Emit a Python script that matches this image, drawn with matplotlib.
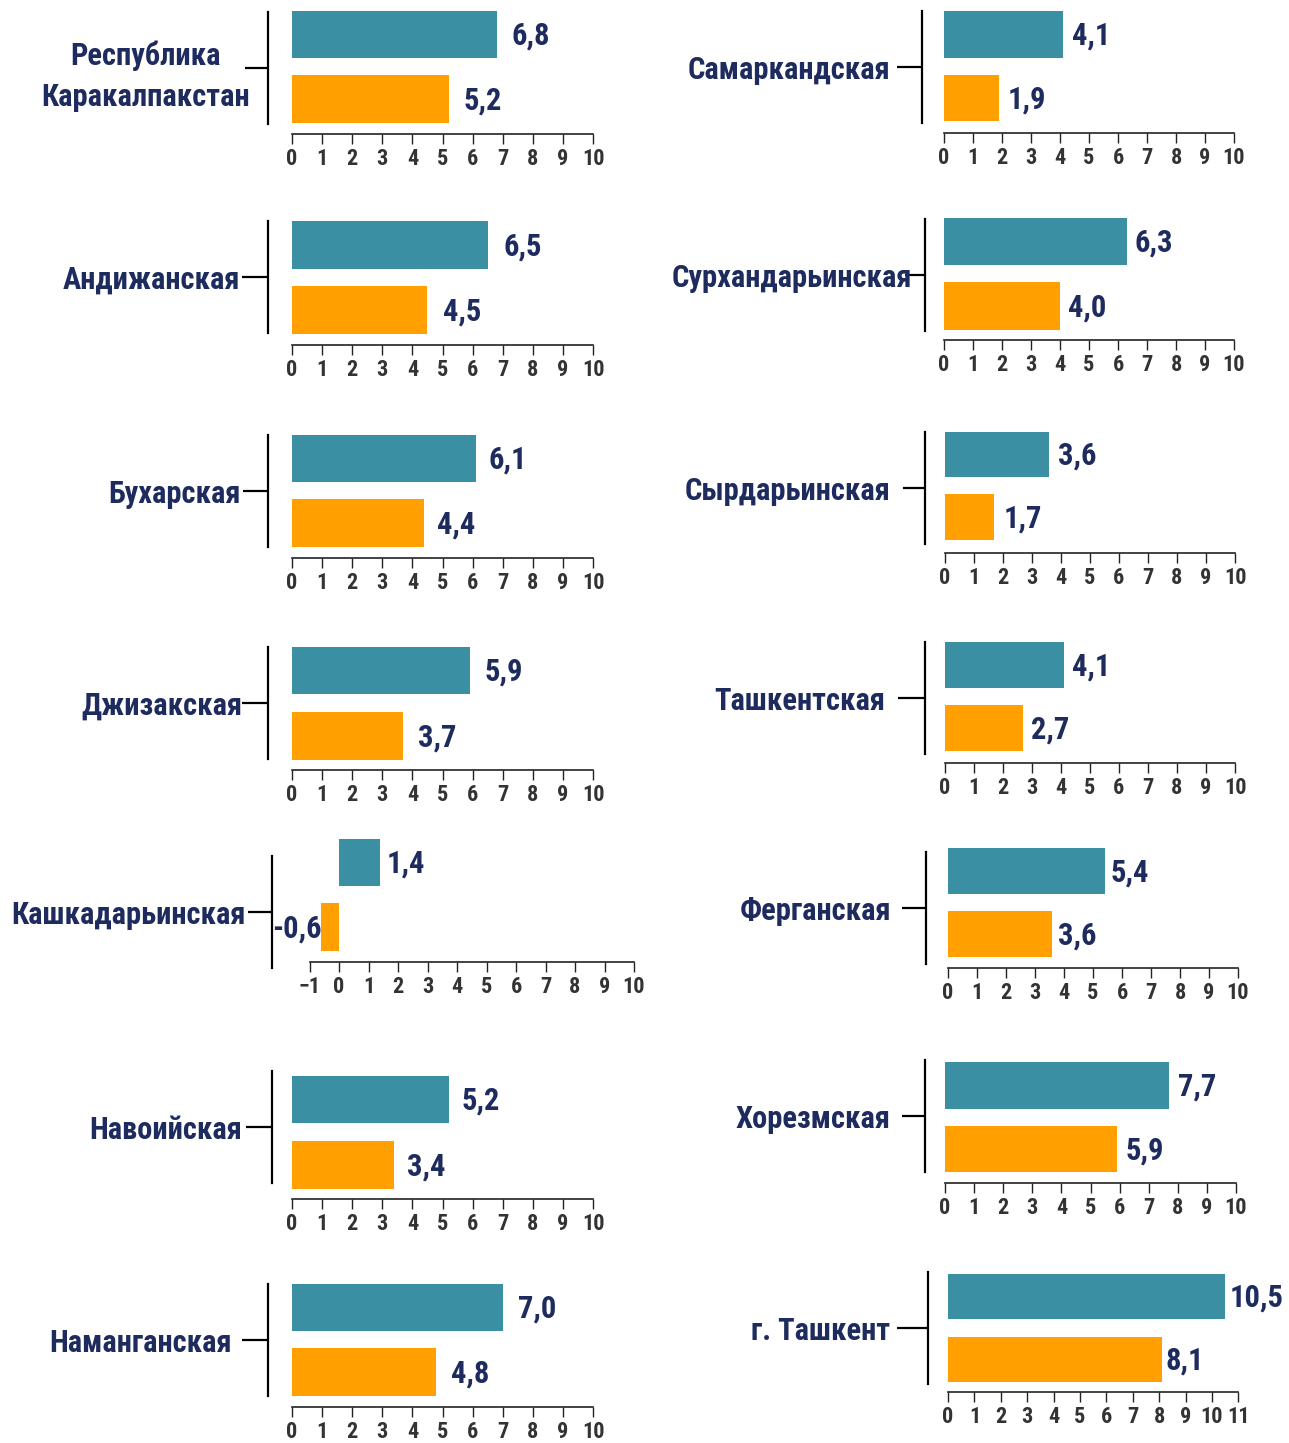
import matplotlib
matplotlib.use("Agg")
import matplotlib.pyplot as plt
from matplotlib import font_manager

# --- data ---
regions = ["Республика\nКаракалпакстан", "Андижанская", "Бухарская", "Джизакская",
           "Кашкадарьинская", "Навоийская", "Наманганская",
           "Самаркандская", "Сурхандарьинская", "Сырдарьинская", "Ташкентская",
           "Ферганская", "Хорезмская", "г. Ташкент"]
teal_vals = [6.8, 6.5, 6.1, 5.9, 1.4, 5.2, 7.0, 4.1, 6.3, 3.6, 4.1, 5.4, 7.7, 10.5]
orange_vals = [5.2, 4.5, 4.4, 3.7, -0.6, 3.4, 4.8, 1.9, 4.0, 1.7, 2.7, 3.6, 5.9, 8.1]
x_min = [0, 0, 0, 0, -1, 0, 0, 0, 0, 0, 0, 0, 0, 0]
x_max = [10, 10, 10, 10, 10, 10, 10, 10, 10, 10, 10, 10, 10, 11]

# --- layout (pixels in the 1289x1443 image) ---
W, H = 1289, 1443
teal_c = [34.5, 245, 458.5, 670.5, 862.5, 1099.5, 1307.5,
          34.5, 241.5, 454.5, 665, 871, 1085.5, 1296.5]
orange_c = [99, 310, 523, 736, 927, 1165, 1372,
            98, 306, 517, 728, 934, 1149, 1359.5]
axis_y = [134, 345, 558, 770, 962, 1199, 1407,
          133, 340, 553, 763, 968, 1183, 1392]
zero_x = [292, 292, 292, 292, 339, 292, 292,
          944, 944, 945, 945, 948, 945, 948]
unit_px = [30.1, 30.1, 30.1, 30.1, 29.5, 30.1, 30.1,
           29, 29, 29, 29, 29, 29.1, 26.4]
label_y = [68, 277, 491, 703, 912, 1127, 1340,
           67, 275, 488, 698, 908, 1116, 1328]
vline_x = [268, 268, 268, 268, 272, 272, 268,
           922, 925, 925, 925, 926, 925, 928]
tick_len = [23, 26, 25, 26, 24, 26, 26,
            25, 20, 22, 27, 24, 23, 31]
label_pad = [-5, 2, 2, 0, 2, 4, 10,
             7, -7, 13, 13, 11, 11, 7]
value_gap = [15, 16, 13, 15, 6, 13, 15,
             9, 8, 9, 8, 6, 9, 4]

TEAL = "#3A8FA3"
ORANGE = "#FFA000"
NAVY = "#1E2B5E"
GREY = "#333333"

names = {f.name for f in font_manager.fontManager.ttflist}
fam = [f for f in ["Liberation Sans Narrow", "Roboto Condensed", "Liberation Sans", "DejaVu Sans"] if f in names]
plt.rcParams["font.family"] = fam
plt.rcParams["font.weight"] = "bold"

PT = 0.72  # px -> pt at dpi 100

fig = plt.figure(figsize=(W / 100, H / 100), dpi=100)

for i in range(len(regions)):
    sp = orange_c[i] - teal_c[i]
    top_px = teal_c[i] - 0.45 * sp
    left_px = zero_x[i] + x_min[i] * unit_px[i]
    right_px = zero_x[i] + x_max[i] * unit_px[i]
    ax = fig.add_axes([left_px / W, 1 - axis_y[i] / H,
                       (right_px - left_px) / W, (axis_y[i] - top_px) / H])
    ax.set_xlim(x_min[i], x_max[i])
    ax.set_ylim(-(axis_y[i] - orange_c[i]) / sp, 1 + (teal_c[i] - top_px) / sp)

    ax.barh([1, 0], [teal_vals[i], orange_vals[i]], height=0.73,
            color=[TEAL, ORANGE])

    for y, v in [(1, teal_vals[i]), (0, orange_vals[i])]:
        txt = f"{v:.1f}".replace(".", ",")
        if v >= 0:
            ax.annotate(txt, (v, y), xytext=(value_gap[i] * PT, -1), textcoords="offset points",
                        ha="left", va="center", fontsize=22, color=NAVY,
                        fontweight="bold")
        else:
            ax.annotate(txt, (v, y), xytext=(0, -1), textcoords="offset points",
                        ha="right", va="center", fontsize=22, color=NAVY,
                        fontweight="bold")

    for s in ["top", "right"]:
        ax.spines[s].set_visible(False)
    ax.spines["bottom"].set_linewidth(1.2)
    ax.spines["bottom"].set_color("#222222")

    # vertical bracket line with the region tick
    ctr = 0.5 - (label_y[i] - (teal_c[i] + orange_c[i]) / 2) / sp
    ax.spines["left"].set_position(("outward", (left_px - vline_x[i]) * PT))
    ax.spines["left"].set_bounds(ctr - 56 / sp, ctr + 56 / sp)
    ax.spines["left"].set_linewidth(1.6)
    ax.spines["left"].set_color("black")
    ax.set_yticks([ctr])
    ax.set_yticklabels([regions[i]], fontsize=22, color=NAVY,
                       fontweight="bold", multialignment="center",
                       linespacing=1.45)
    ax.tick_params(axis="y", length=tick_len[i] * PT, width=1.6,
                   pad=label_pad[i] * PT, color="black")

    ax.set_xticks(range(x_min[i], x_max[i] + 1))
    ax.tick_params(axis="x", length=10 * PT, width=1, color="#222222",
                   labelsize=16, labelcolor=GREY, pad=3)
    for lab in ax.get_xticklabels():
        lab.set_fontweight("bold")

fig.savefig("out.png", dpi=100, facecolor="white")
